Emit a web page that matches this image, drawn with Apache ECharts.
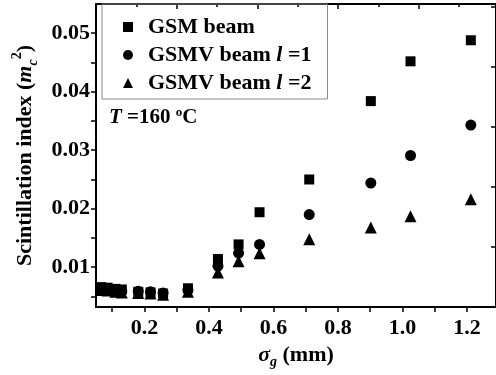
<!DOCTYPE html>
<html>
<head>
<meta charset="utf-8">
<script src="https://cdn.jsdelivr.net/npm/echarts@6/dist/echarts.min.js"></script>
<style>
  html, body { margin: 0; padding: 0; background: #fff; }
  #main { width: 496px; height: 375px; }
</style>
</head>
<body>
<div id="main"></div>
<script>
// sigma_g (mm), shared by all three series
var sigmaG = [0.066, 0.086, 0.11, 0.13, 0.181, 0.219, 0.258, 0.335, 0.428, 0.492, 0.557, 0.711, 0.902, 1.025, 1.212];
var gsmBeam = [0.0066, 0.0065, 0.0063, 0.0062, 0.0058, 0.0057, 0.0055, 0.0064, 0.0114, 0.0139, 0.0194, 0.0250, 0.0384, 0.0452, 0.0488];
var gsmvL1 = [0.0063, 0.0062, 0.0060, 0.0059, 0.0059, 0.0058, 0.0056, 0.0061, 0.0102, 0.0124, 0.0139, 0.0190, 0.0244, 0.0291, 0.0343];
var gsmvL2 = [0.0061, 0.0060, 0.0058, 0.0057, 0.0056, 0.0055, 0.0053, 0.0058, 0.0091, 0.0110, 0.0124, 0.0148, 0.0168, 0.0187, 0.0216];

var xTicks = [0.1, 0.2, 0.3, 0.4, 0.5, 0.6, 0.7, 0.8, 0.9, 1.0, 1.1, 1.2];
var xLabels = [0.2, 0.4, 0.6, 0.8, 1.0, 1.2];
var yTicks = [0.005, 0.01, 0.015, 0.02, 0.025, 0.03, 0.035, 0.04, 0.045, 0.05];
var yLabels = [0.01, 0.02, 0.03, 0.04, 0.05];

var names = ['GSM beam', 'GSMV beam l =1', 'GSMV beam l =2'];

var X_MIN = 0.05, X_MAX = 1.29;
var Y_MIN = 0.0032, Y_MAX = 0.055;

var FONT = '"Liberation Serif", "Times New Roman", serif';
var bold = { fontFamily: FONT, fontWeight: 'bold', fontSize: 22, color: '#000' };

function pairs(ys) {
    return sigmaG.map(function (x, i) { return [x, ys[i]]; });
}

var myChart = echarts.init(document.getElementById('main'));

var option = {
    animation: false,
    backgroundColor: '#fff',
    grid: { left: 96, top: 4, right: -3, bottom: 68 },
    legend: {
        orient: 'vertical',
        left: 102,
        top: 4,
        padding: [12, 16, 5, 21],
        itemGap: 6,
        itemWidth: 10,
        itemHeight: 10,
        borderColor: '#888',
        borderWidth: 1,
        data: names,
        formatter: function (n) { return n.replace(' l ', ' {i|l} '); },
        textStyle: {
            fontFamily: FONT, fontWeight: 'bold', fontSize: 22, color: '#000',
            padding: [0, 0, 0, 10],
            rich: { i: { fontFamily: FONT, fontWeight: 'bold', fontStyle: 'italic', fontSize: 22, color: '#000' } }
        }
    },
    xAxis: [{
        type: 'value',
        min: X_MIN, max: X_MAX,
        position: 'bottom',
        splitLine: { show: false },
        axisLine: { onZero: false, lineStyle: { color: '#000', width: 2 } },
        axisTick: { inside: false, length: 5, customValues: xTicks, lineStyle: { color: '#000', width: 1.5 } },
        axisLabel: Object.assign({ margin: 10, customValues: xLabels, formatter: function (v) { return v.toFixed(1); } }, bold),
        name: '{s|σ}{g|g}{t| (mm)}',
        nameLocation: 'middle',
        nameGap: 30,
        nameTextStyle: {
            rich: {
                s: { fontFamily: FONT, fontStyle: 'italic', fontWeight: 'bold', fontSize: 22, lineHeight: 28, color: '#000' },
                g: { fontFamily: FONT, fontStyle: 'italic', fontWeight: 'bold', fontSize: 14, lineHeight: 18, verticalAlign: 'bottom', color: '#000' },
                t: { fontFamily: FONT, fontWeight: 'bold', fontSize: 22, lineHeight: 28, color: '#000' }
            }
        }
    }, {
        // top frame axis, ticks only
        type: 'value',
        position: 'top',
        min: 0, max: (X_MAX - X_MIN) / 0.125, interval: 2,
        splitLine: { show: false },
        axisLine: { onZero: false, lineStyle: { color: '#000', width: 2 } },
        axisTick: { inside: true, length: 5, lineStyle: { color: '#000', width: 1.5 } },
        minorTick: { show: true, splitNumber: 2, length: 3, lineStyle: { color: '#000', width: 1.5 } },
        axisLabel: { show: false }
    }],
    yAxis: [{
        type: 'value',
        min: Y_MIN, max: Y_MAX,
        position: 'left',
        splitLine: { show: false },
        axisLine: { onZero: false, lineStyle: { color: '#000', width: 2 } },
        axisTick: { inside: false, length: 5, customValues: yTicks, lineStyle: { color: '#000', width: 1.5 } },
        axisLabel: Object.assign({ margin: 6, customValues: yLabels, formatter: function (v) { return v.toFixed(2); } }, bold),
        name: '{t|Scintillation index (}{m|m}{c|c}{p|2}{t|)}',
        nameLocation: 'middle',
        nameGap: 52,
        nameRotate: 90,
        nameTextStyle: {
            rich: {
                t: { fontFamily: FONT, fontWeight: 'bold', fontSize: 22, lineHeight: 30, color: '#000' },
                m: { fontFamily: FONT, fontWeight: 'bold', fontStyle: 'italic', fontSize: 22, lineHeight: 30, color: '#000' },
                c: { fontFamily: FONT, fontWeight: 'bold', fontStyle: 'italic', fontSize: 14, lineHeight: 16, verticalAlign: 'bottom', color: '#000' },
                p: { fontFamily: FONT, fontWeight: 'bold', fontSize: 14, lineHeight: 16, verticalAlign: 'top', color: '#000' }
            }
        }
    }, {
        // right frame axis, ticks only (mostly off canvas)
        type: 'value',
        position: 'right',
        min: 0, max: 5.05, interval: 1,
        splitLine: { show: false },
        axisLine: { onZero: false, lineStyle: { color: '#000', width: 2 } },
        axisTick: { inside: true, length: 5, lineStyle: { color: '#000', width: 1.5 } },
        axisLabel: { show: false }
    }],
    graphic: [{
        type: 'text',
        left: 109,
        top: 106,
        style: {
            text: '{i|T}{t| =160 }{o|o}{t|C}',
            rich: {
                i: { fontFamily: FONT, fontWeight: 'bold', fontStyle: 'italic', fontSize: 21, lineHeight: 24, fill: '#000' },
                t: { fontFamily: FONT, fontWeight: 'bold', fontSize: 21, lineHeight: 24, fill: '#000' },
                o: { fontFamily: FONT, fontWeight: 'bold', fontSize: 13, lineHeight: 14, verticalAlign: 'top', fill: '#000' }
            }
        }
    }],
    series: [{
        name: names[0],
        type: 'scatter',
        symbol: 'rect',
        symbolSize: 10,
        itemStyle: { color: '#000', opacity: 1 },
        data: pairs(gsmBeam)
    }, {
        name: names[1],
        type: 'scatter',
        symbol: 'circle',
        symbolSize: 11,
        itemStyle: { color: '#000', opacity: 1 },
        data: pairs(gsmvL1)
    }, {
        name: names[2],
        type: 'scatter',
        symbol: 'triangle',
        symbolSize: 12,
        itemStyle: { color: '#000', opacity: 1 },
        data: pairs(gsmvL2)
    }]
};

myChart.setOption(option);
</script>
</body>
</html>
